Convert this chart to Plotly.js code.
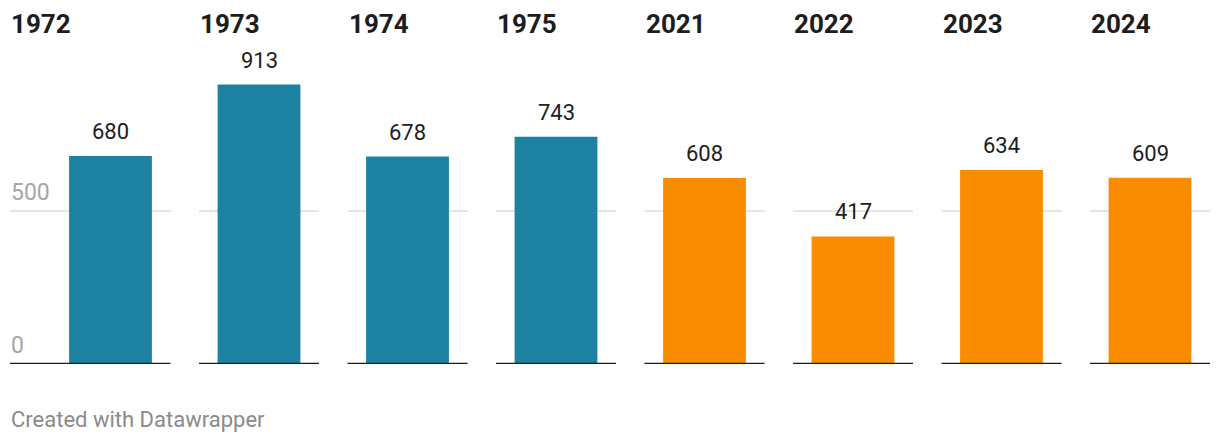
<!DOCTYPE html>
<html>
<head>
<meta charset="utf-8">
<script src="https://cdn.plot.ly/plotly-3.0.1.min.js"></script>
<style>
  html, body { margin: 0; padding: 0; background: #fff; }
  #chart { width: 1220px; height: 442px; }
</style>
</head>
<body>
<div id="chart"></div>
<script>
// ---- data ----
const years = ['1972', '1973', '1974', '1975', '2021', '2022', '2023', '2024'];
const values = [680, 913, 678, 743, 608, 417, 634, 609];
const periods = ['1970s', '1970s', '1970s', '1970s', '2020s', '2020s', '2020s', '2020s'];
const yTickValues = [0, 500];
const yTickLabels = ['0', '500'];
const footerText = 'Created with Datawrapper';

// ---- styling ----
const W = 1220, H = 442;
const periodColors = { '1970s': '#1d81a2', '2020s': '#fa8c00' };
const font = 'Roboto, "Open Sans", sans-serif';
const px2x = p => p / W;
const px2y = p => 1 - p / H;      // pixel from top -> paper y

const firstCenter = 110.5, step = 148.5, halfPanel = 60, pxPerUnit = 120;
const yTopPx = 58, yBasePx = 364;  // pixel rows of y=1000 and y=0

const data = [];
const layout = {
  width: W, height: H,
  margin: { l: 0, r: 0, t: 0, b: 0 },
  paper_bgcolor: '#fff', plot_bgcolor: 'rgba(0,0,0,0)',
  showlegend: false,
  font: { family: font },
  annotations: [],
  shapes: []
};

years.forEach((yr, i) => {
  const n = i === 0 ? '' : String(i + 1);
  const c = firstCenter + step * i;
  const left = i === 0 ? 10 : c - halfPanel;
  const right = c + halfPanel;
  const r0 = -(c - left) / pxPerUnit, r1 = (right - c) / pxPerUnit;

  data.push({
    type: 'bar',
    x: [yr], y: [values[i]],
    xaxis: 'x' + n, yaxis: 'y' + n,
    width: [0.69],
    marker: { color: periodColors[periods[i]], line: { width: 0 } },
    hoverinfo: 'skip'
  });

  layout['xaxis' + n] = {
    domain: [px2x(left), px2x(right)],
    anchor: 'y' + n,
    type: 'category',
    range: [r0, r1],
    showticklabels: false, showgrid: false, zeroline: false, showline: false,
    ticks: '', fixedrange: true
  };
  layout['yaxis' + n] = {
    domain: [px2y(yBasePx), px2y(yTopPx)],
    anchor: 'x' + n,
    range: [0, 1000],
    tickvals: [500],
    showticklabels: false,
    showgrid: true, gridcolor: '#e5e5e5', gridwidth: 1.5,
    zeroline: false, showline: false, ticks: '', fixedrange: true
  };

  // baseline
  layout.shapes.push({
    type: 'line', xref: 'x' + n + ' domain', yref: 'y' + n,
    x0: 0, x1: 1, y0: 0, y1: 0,
    line: { color: '#1d1d1d', width: 2.5 }, layer: 'above'
  });

  // panel title
  layout.annotations.push({
    text: '<b>' + yr + '</b>',
    xref: 'paper', yref: 'paper',
    x: px2x(left - 1), y: px2y(41),
    xanchor: 'left', yanchor: 'bottom',
    showarrow: false,
    font: { family: font, size: 26, color: '#1d1d1d' }
  });

  // value label (category index 0 of this panel's axis)
  layout.annotations.push({
    text: String(values[i]),
    xref: 'x' + n, yref: 'y' + n,
    x: 0, y: values[i],
    xanchor: 'center', yanchor: 'bottom',
    yshift: 10,
    showarrow: false,
    font: { family: font, size: 22, color: '#1d1d1d' }
  });
});

// y tick labels on the first panel
yTickValues.forEach((v, k) => {
  layout.annotations.push({
    text: yTickLabels[k],
    xref: 'paper', yref: 'y',
    x: px2x(9), y: v,
    xanchor: 'left', yanchor: 'bottom',
    yshift: 3,
    showarrow: false,
    font: { family: font, size: 23, color: '#a6a6a6' }
  });
});

// footer
layout.annotations.push({
  text: footerText,
  xref: 'paper', yref: 'paper',
  x: px2x(9), y: px2y(434),
  xanchor: 'left', yanchor: 'bottom',
  showarrow: false,
  font: { family: font, size: 22, color: '#8a8a8a' }
});

Plotly.newPlot('chart', data, layout, { displayModeBar: false, staticPlot: true });
</script>
</body>
</html>
